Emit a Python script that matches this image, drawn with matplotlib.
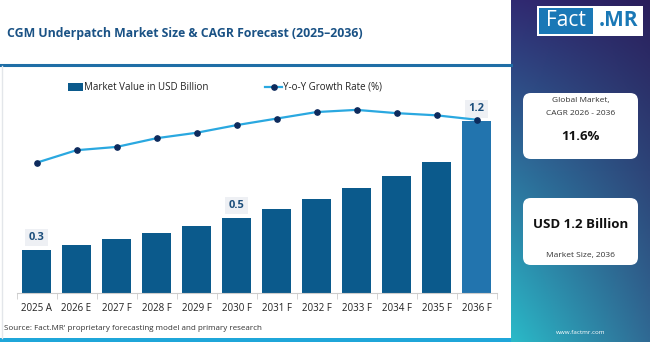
import matplotlib.pyplot as plt
import numpy as np
from matplotlib.patches import FancyBboxPatch, Rectangle
from matplotlib.lines import Line2D

plt.rcParams['font.family'] = ['Open Sans', 'DejaVu Sans']

## chart data
years = ['2025 A', '2026 E', '2027 F', '2028 F', '2029 F', '2030 F',
         '2031 F', '2032 F', '2033 F', '2034 F', '2035 F', '2036 F']
market_value = [0.30, 0.336, 0.378, 0.42, 0.468, 0.524,
                0.587, 0.657, 0.734, 0.818, 0.916, 1.2]
yoy_growth = [11.95, 13.1, 13.4, 14.2, 14.7, 15.4,
              16.0, 16.6, 16.8, 16.5, 16.3, 15.9]
labelled = {0: '0.3', 5: '0.5', 11: '1.2'}

W, H = 650, 342
def fx(px): return px / W
def fy(py): return 1 - py / H  ## py measured from top

fig = plt.figure(figsize=(6.5, 3.42), dpi=100)
fig.patch.set_facecolor('white')

## right gradient panel
c_tl = np.array([0x30, 0x2a, 0x72]) / 255
c_tr = np.array([0x2a, 0x1e, 0x5c]) / 255
c_bl = np.array([0x2a, 0xba, 0xc8]) / 255
c_br = np.array([0x30, 0x6a, 0x94]) / 255
ny, nx = 200, 60
yy, xx = np.mgrid[0:1:ny*1j, 0:1:nx*1j]
grad = (c_tl[None, None] * ((1-yy)*(1-xx))[..., None] + c_tr[None, None] * ((1-yy)*xx)[..., None]
        + c_bl[None, None] * (yy*(1-xx))[..., None] + c_br[None, None] * (yy*xx)[..., None])
pax = fig.add_axes([fx(511), 0, 1 - fx(511), 1])
pax.imshow(grad, aspect='auto', extent=[0, 1, 0, 1], origin='upper')
pax.set_xlim(0, 1); pax.set_ylim(0, 1)
pax.axis('off')

## decorative lines
fig.add_artist(Line2D([0, fx(511)], [fy(65), fy(65)], color='#1f6ea6', lw=2.2))
fig.add_artist(Rectangle((0, 0), fx(511), 4 / H, color='#1fa6d9', lw=0))
fig.add_artist(Line2D([fx(1.5), fx(1.5)], [fy(66), fy(338)], color='#e3e6ea', lw=1))

## title
fig.text(fx(7), fy(34), 'CGM Underpatch Market Size & CAGR Forecast (2025\u20132036)',
         fontsize=8.8, fontweight='bold', color='#1a5285', va='center', ha='left')

## main axes
ax = fig.add_axes([fx(16.5), fy(293), fx(480), (293 - 75) / H])
x = np.arange(len(years))
colors = ['#0b5a8c'] * (len(years) - 1) + ['#2274ae']
ax.bar(x, market_value, width=0.72, color=colors, zorder=2)
ax.set_xlim(-0.5, len(years) - 0.5)
ax.set_ylim(0, 218 / 143)
ax.set_yticks([])
ax.set_xticks(x)
ax.set_xticklabels(years, fontsize=7, color='#222222')
ax.tick_params(axis='x', length=0, pad=7)
ax.set_xticks(np.arange(-0.5, len(years), 1), minor=True)
ax.tick_params(axis='x', which='minor', length=4, color='#cccccc')
for s in ['top', 'right', 'left']:
    ax.spines[s].set_visible(False)
ax.spines['bottom'].set_color('#cccccc')
ax.patch.set_alpha(0)

for i, lab in labelled.items():
    ax.annotate(lab, (x[i], market_value[i]), xytext=(0, 9), textcoords='offset points',
                ha='center', va='center', fontsize=8, fontweight='bold', color='#1d4f7c',
                bbox=dict(boxstyle='square,pad=0.3', fc='#eef0f4', ec='none'), zorder=5)

ax2 = ax.twinx()
ax2.plot(x, yoy_growth, color='#2aa8e0', lw=1.6, marker='o', markersize=3.8,
         markerfacecolor='#0d2a5c', markeredgecolor='#0d2a5c', zorder=4)
ax2.set_ylim(0, 20)
ax2.axis('off')

## legend
fig.add_artist(Rectangle((fx(68), fy(90.5)), fx(15), 7 / H, color='#0b5a8c', lw=0))
fig.text(fx(84), fy(87), 'Market Value in USD Billion', fontsize=7, color='#222222', va='center')
fig.add_artist(Line2D([fx(265), fx(282)], [fy(87), fy(87)], color='#2aa8e0', lw=1.6))
fig.add_artist(Line2D([fx(273.5)], [fy(87)], marker='o', markersize=3.8, color='#0d2a5c'))
fig.text(fx(283), fy(87), 'Y-o-Y Growth Rate (%)', fontsize=7, color='#222222', va='center')

## source
fig.text(fx(4), fy(329), "Source: Fact.MR' proprietary forecasting model and primary research",
         fontsize=5.8, color='#333333', va='center')

## logo
fig.add_artist(Rectangle((fx(537), fy(36)), fx(106), 30 / H, color='white', lw=0))
fig.add_artist(Rectangle((fx(539), fy(34)), fx(54), 26 / H, color='#1a78b6', lw=0))
fig.text(fx(566), fy(21), 'Fact', fontsize=15, color='white', ha='center', va='center')
fig.text(fx(618), fy(21), '.MR', fontsize=15, color='#1a78b6', ha='center', va='center',
         fontweight='bold')

## cards
for top, bot in [(93, 159), (198, 265)]:
    fig.add_artist(FancyBboxPatch((fx(523), fy(bot)), fx(115), (bot - top) / H,
                                  boxstyle='round,pad=0,rounding_size=0.012',
                                  fc='white', ec='none', transform=fig.transFigure,
                                  mutation_aspect=W / H))
cx = fx(580.5)
fig.text(cx, fy(101), 'Global Market,', fontsize=6, color='#333333', ha='center', va='center')
fig.text(cx, fy(113), 'CAGR 2026 - 2036', fontsize=6, color='#333333', ha='center', va='center')
fig.text(cx, fy(136), '11.6%', fontsize=9.5, fontweight='bold', color='#111111', ha='center', va='center')
fig.text(cx, fy(225), 'USD 1.2 Billion', fontsize=9.5, fontweight='bold', color='#111111', ha='center', va='center')
fig.text(cx, fy(256), 'Market Size, 2036', fontsize=6, color='#333333', ha='center', va='center')
fig.text(cx, fy(333), 'www.factmr.com', fontsize=4.5, color='white', ha='center', va='center')

fig.savefig('out.png', dpi=100, facecolor='white')
